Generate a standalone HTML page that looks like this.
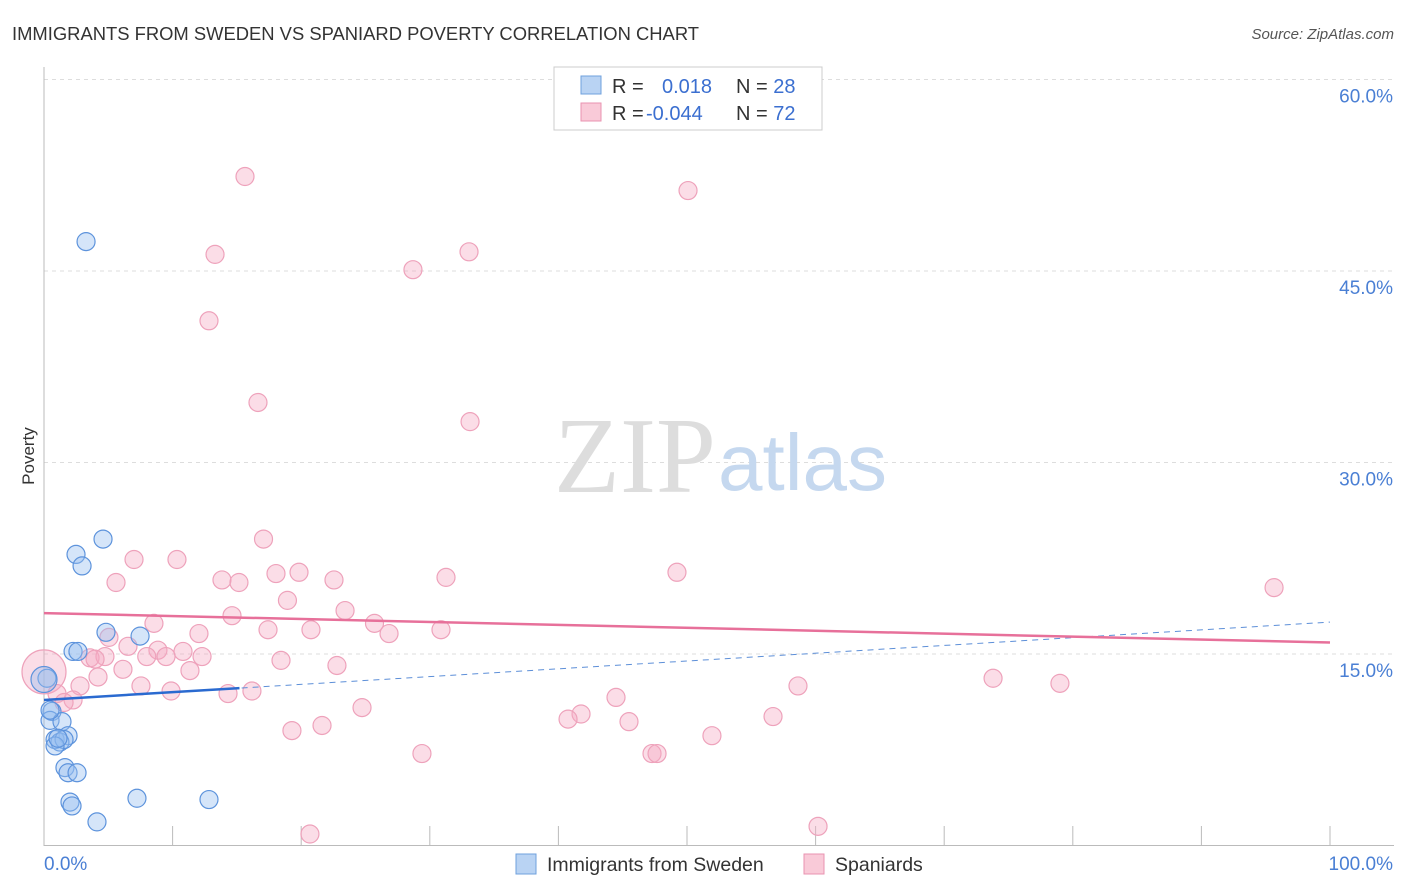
<!DOCTYPE html>
<html><head><meta charset="utf-8"><style>
body{margin:0;background:#fff;font-family:"Liberation Sans",sans-serif;}
svg{display:block}
</style></head><body>
<svg id="c" width="1406" height="892">
<text x="12" y="40" font-size="18.4" fill="#333">IMMIGRANTS FROM SWEDEN VS SPANIARD POVERTY CORRELATION CHART</text>
<text x="1394" y="39" font-size="15" fill="#555" font-style="italic" text-anchor="end">Source: ZipAtlas.com</text>
<text x="34" y="456" font-size="17" fill="#333" transform="rotate(-90 34 456)" text-anchor="middle">Poverty</text>
<g id="grid"></g>
<text x="716" y="492" font-size="108" fill="#ddd" font-family="Liberation Serif,serif" text-anchor="end">ZIP</text>
<text x="718" y="490" font-size="80" fill="#c5d8ef">atlas</text>
<g id="pts"></g>
<g id="lines"></g>
<g>
<rect x="554" y="67" width="268" height="63" fill="#fff" stroke="#ccc"/>
<rect x="581" y="76" width="20" height="18" fill="#b9d3f3" stroke="#6fa0dc"/>
<rect x="581" y="103" width="20" height="18" fill="#f9cad8" stroke="#e993b0"/>
<text x="612" y="93" font-size="20" fill="#333">R = <tspan fill="#3b6fd0" x="662">0.018</tspan><tspan fill="#333" x="736">N = </tspan><tspan fill="#3b6fd0">28</tspan></text>
<text x="612" y="120" font-size="20" fill="#333">R = <tspan fill="#3b6fd0" x="646">-0.044</tspan><tspan fill="#333" x="736">N = </tspan><tspan fill="#3b6fd0">72</tspan></text>
</g>
<g>
<rect x="516" y="854" width="20" height="20" fill="#b9d3f3" stroke="#6fa0dc"/>
<text x="547" y="871" font-size="19.5" fill="#333">Immigrants from Sweden</text>
<rect x="804" y="854" width="20" height="20" fill="#f9cad8" stroke="#e993b0"/>
<text x="835" y="871" font-size="19.5" fill="#333">Spaniards</text>
</g>
</svg>
<script>
const yTicks=[15,30,45,60];
const yTickLabels=["15.0%","30.0%","45.0%","60.0%"];
const xLabels=["0.0%","100.0%"];
const blueX=[3.27,4.59,2.49,2.96,4.82,7.47,2.26,2.64,0.23,0,0.62,0.47,1.4,1.87,0.86,1.24,1.56,0.86,1.63,1.87,2.57,2.02,2.18,7.23,12.83,4.12,0.47,1.09];
const blueY=[47.3,24.0,22.8,21.9,16.7,16.4,15.2,15.2,13.1,13.0,10.5,9.8,9.7,8.6,8.3,8.1,8.3,7.8,6.1,5.7,5.7,3.4,3.1,3.7,3.6,1.85,10.6,8.4];
const pinkX=[15.63,50.08,13.3,33.05,28.69,12.83,16.64,33.13,17.07,7.0,10.34,5.6,13.84,15.16,18.04,19.83,22.55,31.26,49.22,95.65,18.93,14.62,23.41,8.55,25.7,17.42,20.76,26.83,30.87,5.05,12.05,6.53,8.86,10.81,3.58,4.74,7.99,9.49,12.29,3.97,18.43,22.78,6.14,11.35,4.2,0,73.8,79.0,2.8,7.54,58.63,9.88,14.31,16.17,1.01,2.26,1.56,44.48,24.73,41.76,40.75,45.49,56.69,21.62,19.28,51.94,29.39,47.28,47.67,20.68,60.19];
const pinkY=[52.4,51.3,46.3,46.5,45.1,41.1,34.7,33.2,24.0,22.4,22.4,20.6,20.8,20.6,21.3,21.4,20.8,21.0,21.4,20.2,19.2,18.0,18.4,17.4,17.4,16.9,16.9,16.6,16.9,16.3,16.6,15.6,15.3,15.2,14.7,14.8,14.8,14.8,14.8,14.6,14.5,14.1,13.8,13.7,13.2,13.6,13.1,12.7,12.5,12.5,12.5,12.1,11.9,12.1,11.9,11.4,11.2,11.6,10.8,10.3,9.9,9.7,10.1,9.4,9.0,8.6,7.2,7.2,7.2,0.9,1.5];
const blueTrend=[11.4,17.5];
const pinkTrend=[18.2,15.9];
const NS='http://www.w3.org/2000/svg';
const X=v=>44+v*12.86, Y=v=>845.5-v*12.767;
function mk(t,a,p){const e=document.createElementNS(NS,t);for(const k in a)e.setAttribute(k,a[k]);p.appendChild(e);return e;}
const grid=document.getElementById('grid');
yTicks.forEach((t,i)=>{
 const l=mk('line',{x1:44,x2:1394,y1:Y(t),y2:Y(t),stroke:'#ddd','stroke-dasharray':'4,4'},grid);
 
 
 const tx=mk('text',{x:1393,y:Y(t)+23,'font-size':19,fill:'#4a7fd4','text-anchor':'end'},grid);
 tx.textContent=yTickLabels[i];
 
 
});
const ax=mk('line',{x1:44,x2:44,y1:67,y2:846,stroke:'#bbb'},grid);


const bx=mk('line',{x1:44,x2:1394,y1:845.5,y2:845.5,stroke:'#bbb'},grid);


for(let i=0;i<=10;i++){const t=mk('line',{x1:X(i*10),x2:X(i*10),y1:826,y2:846,stroke:'#bbb'},grid);
 
 }
xLabels.forEach((s,i)=>{const t=mk('text',{x:i?1393:44,y:870,'font-size':19,fill:'#4a7fd4','text-anchor':i?'end':'start'},grid);t.textContent=s;
 
 });
const pts=document.getElementById('pts');
pinkX.forEach((x,i)=>{const r=(x===0)?22:9;const c=mk('circle',{cx:X(x),cy:Y(pinkY[i]),r:r,fill:'rgba(246,170,195,0.4)',stroke:'#eea2bb','stroke-width':1.2},pts);
 
 });
blueX.forEach((x,i)=>{const r=(x===0)?13:9;const c=mk('circle',{cx:X(x),cy:Y(blueY[i]),r:r,fill:'rgba(150,190,240,0.4)',stroke:'#5d93dc','stroke-width':1.2},pts);
 
 });
const lg=document.getElementById('lines');
const bf=v=>blueTrend[0]+(blueTrend[1]-blueTrend[0])*v/100;
let l1=mk('line',{x1:X(0),y1:Y(bf(0)),x2:X(100),y2:Y(bf(100)),stroke:'#5d8fd8','stroke-dasharray':'6,5','stroke-width':1},lg);


let l2=mk('line',{x1:X(0),y1:Y(bf(0)),x2:X(15.2),y2:Y(bf(15.2)),stroke:'#2a6ad0','stroke-width':2.5},lg);


let l3=mk('line',{x1:X(0),y1:Y(pinkTrend[0]),x2:X(100),y2:Y(pinkTrend[1]),stroke:'#e7709a','stroke-width':2.5},lg);


</script>
</body></html>
